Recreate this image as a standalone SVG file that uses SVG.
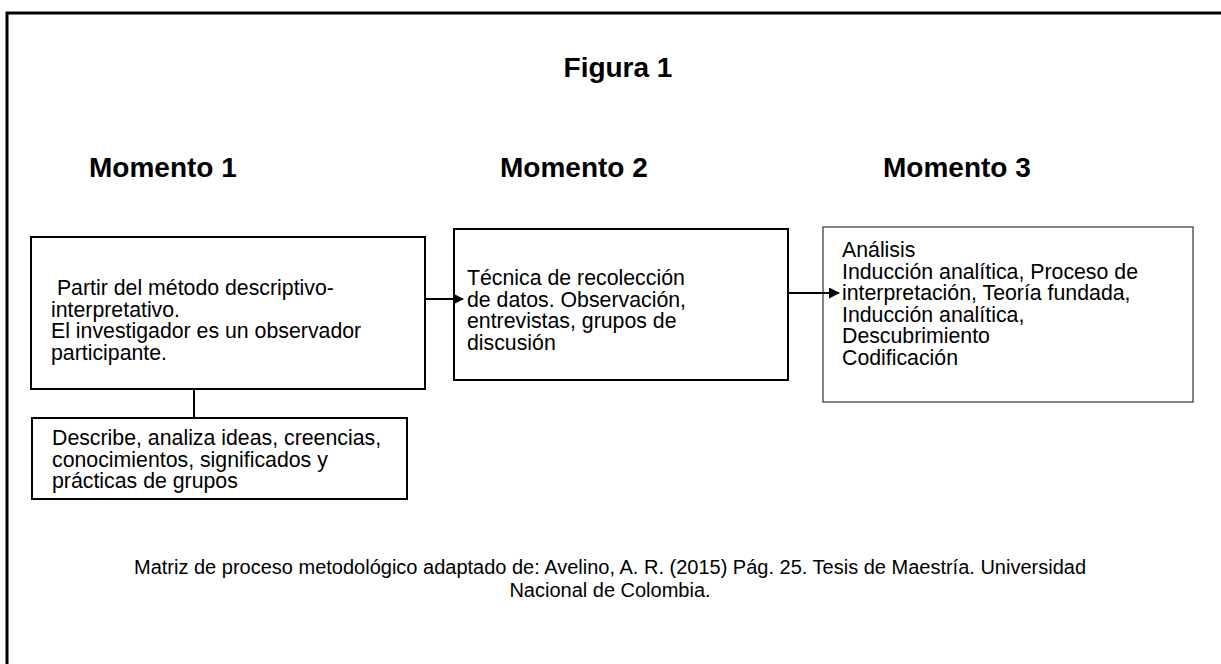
<svg xmlns="http://www.w3.org/2000/svg" width="1221" height="664" viewBox="0 0 1221 664">
<style>
text{font-family:"Liberation Sans",Arial,sans-serif;fill:#000}
.h{font-size:28px;font-weight:bold}
.t{font-size:21.3px}
.c{font-size:20px}
.box{fill:#fff;stroke:#000;stroke-width:2}
.box3{fill:#fff;stroke:#333;stroke-width:1.2}
.ln{stroke:#000;stroke-width:2;fill:none}
</style>
<defs>
<marker id="ah" markerWidth="11" markerHeight="11" refX="10" refY="5.5" orient="auto" markerUnits="userSpaceOnUse">
<path d="M0,0 L11,5.5 L0,11 Z" fill="#000"/>
</marker>
</defs>
<rect width="1221" height="664" fill="#fff"/>
<path d="M7,675 V13 H1230" fill="none" stroke="#000" stroke-width="3"/>
<text class="h" x="618" y="77" text-anchor="middle">Figura 1</text>
<text class="h" x="89" y="177">Momento 1</text>
<text class="h" x="500" y="177">Momento 2</text>
<text class="h" x="883" y="177">Momento 3</text>
<g id="n1">
<rect class="box" x="31" y="237" width="394" height="152"/>
<text class="t" x="51" y="295" xml:space="preserve"> Partir del método descriptivo-</text>
<text class="t" x="51" y="316.5">interpretativo.</text>
<text class="t" x="51" y="338">El investigador es un observador</text>
<text class="t" x="51" y="360">participante.</text>
</g>
<g id="n2">
<rect class="box" x="454" y="229" width="334" height="151"/>
<text class="t" x="467" y="285">Técnica de recolección</text>
<text class="t" x="467" y="306.5">de datos. Observación,</text>
<text class="t" x="467" y="328">entrevistas, grupos de</text>
<text class="t" x="467" y="349.5">discusión</text>
</g>
<g id="n3">
<rect class="box3" x="823" y="227" width="370" height="175"/>
<text class="t" x="842" y="257">Análisis</text>
<text class="t" x="842" y="278.5">Inducción analítica, Proceso de</text>
<text class="t" x="842" y="300">interpretación, Teoría fundada,</text>
<text class="t" x="842" y="321.5">Inducción analítica,</text>
<text class="t" x="842" y="343">Descubrimiento</text>
<text class="t" x="842" y="364.5">Codificación</text>
</g>
<g id="n4">
<rect class="box" x="32" y="418" width="375" height="81"/>
<text class="t" x="52" y="445">Describe, analiza ideas, creencias,</text>
<text class="t" x="52" y="466.5">conocimientos, significados y</text>
<text class="t" x="52" y="488">prácticas de grupos</text>
</g>
<g id="connectors">
<line class="ln" x1="425" y1="299" x2="463" y2="299" marker-end="url(#ah)"/>
<line class="ln" x1="788" y1="293" x2="839" y2="293" marker-end="url(#ah)"/>
<line class="ln" x1="194" y1="389" x2="194" y2="418"/>
</g>
<text class="c" x="610" y="574" text-anchor="middle">Matriz de proceso metodológico adaptado de: Avelino, A. R. (2015) Pág. 25. Tesis de Maestría. Universidad</text>
<text class="c" x="610" y="597" text-anchor="middle">Nacional de Colombia.</text>
</svg>
